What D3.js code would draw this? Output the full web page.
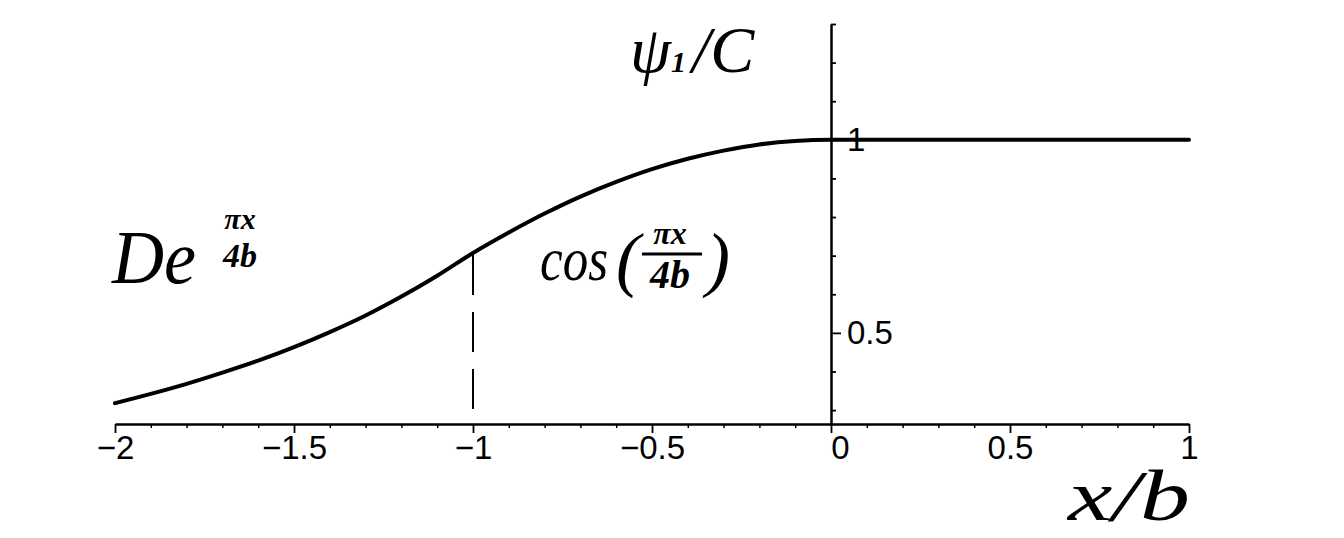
<!DOCTYPE html>
<html>
<head>
<meta charset="utf-8">
<script src="https://cdn.jsdelivr.net/npm/d3@7"></script>
<style>
  html, body { margin: 0; padding: 0; background: #fff; }
  svg { display: block; }
  .tick text { font-family: "Liberation Sans", Arial, sans-serif; }
  .hand { font-family: "Liberation Serif", "DejaVu Serif", serif; font-style: italic; fill: #000; }
</style>
</head>
<body>
<svg id="chart" width="1344" height="538"></svg>
<script>
// ---- data ----
const xValues   = [-2.0, -1.9, -1.8, -1.7, -1.6, -1.5, -1.4, -1.3, -1.2, -1.1, -1.0,
                   -0.9, -0.8, -0.7, -0.6, -0.5, -0.4, -0.3, -0.2, -0.1, 0.0, 0.5, 1.0];
const psiValues = [0.318, 0.342, 0.368, 0.397, 0.428, 0.463, 0.502, 0.545, 0.594, 0.648, 0.707,
                   0.760, 0.809, 0.853, 0.891, 0.924, 0.951, 0.972, 0.988, 0.997, 1.0, 1.0, 1.0];
const xMajorTicks = [-2, -1.5, -1, -0.5, 0, 0.5, 1];
const xMinorTicks = [-1.9,-1.8,-1.7,-1.6,-1.4,-1.3,-1.2,-1.1,-0.9,-0.8,-0.7,-0.6,-0.4,-0.3,-0.2,-0.1,
                     0.1,0.2,0.3,0.4,0.6,0.7,0.8,0.9];
const yMajorTicks = [0.5, 1];
const yMinorTicks = [0.3, 0.4, 0.6, 0.7, 0.8, 0.9, 1.1, 1.2, 1.3];
const xDomain = [-2, 1];
const yDomain = [0.264, 1.30];
const dashedAt = -1;

// ---- drawing ----
const svg = d3.select("#chart");
const x = d3.scaleLinear().domain(xDomain).range([115, 1189]);
const y = d3.scaleLinear().domain(yDomain).range([424, 24]);
const fmt = v => (v < 0 ? "\u2212" : "") + String(Math.abs(v));

// x axis minor
svg.append("g").attr("transform", `translate(0,${y(yDomain[0])})`)
  .call(d3.axisBottom(x).tickValues(xMinorTicks).tickSize(4).tickSizeOuter(0).tickFormat(""))
  .call(g => g.select(".domain").remove())
  .call(g => g.selectAll("line").attr("stroke", "#000").attr("stroke-width", 1.5));
// x axis major
const gx = svg.append("g").attr("transform", `translate(0,${y(yDomain[0])})`)
  .call(d3.axisBottom(x).tickValues(xMajorTicks).tickSize(9).tickPadding(3).tickSizeOuter(0).tickFormat(fmt));
gx.select(".domain").attr("stroke", "#000").attr("stroke-width", 2.5);
gx.selectAll("line").attr("stroke", "#000").attr("stroke-width", 1.8);
gx.selectAll("text").attr("font-size", 33).attr("fill", "#000")
  .attr("dx", d => d === 0 ? 9 : 0);

// y axis minor
svg.append("g").attr("transform", `translate(${x(0)},0)`)
  .call(d3.axisRight(y).tickValues(yMinorTicks).tickSize(5).tickSizeOuter(0).tickFormat(""))
  .call(g => g.select(".domain").remove())
  .call(g => g.selectAll("line").attr("stroke", "#000").attr("stroke-width", 1.8));
// y axis major
const gy = svg.append("g").attr("transform", `translate(${x(0)},0)`)
  .call(d3.axisRight(y).tickValues(yMajorTicks).tickSize(10).tickPadding(6).tickSizeOuter(0).tickFormat(d => String(d)));
gy.select(".domain").attr("stroke", "#000").attr("stroke-width", 2.5);
gy.selectAll("line").attr("stroke", "#000").attr("stroke-width", 1.8);
gy.selectAll("text").attr("font-size", 33).attr("fill", "#000");

// dashed drop line at x = -1
const iDash = xValues.indexOf(dashedAt);
svg.append("line")
  .attr("x1", x(dashedAt)).attr("x2", x(dashedAt))
  .attr("y1", y(psiValues[iDash]) + 2).attr("y2", y(yDomain[0]))
  .attr("stroke", "#000").attr("stroke-width", 2)
  .attr("stroke-dasharray", "40,17");

// curve
const pts = xValues.map((v, i) => [v, psiValues[i]]);
svg.append("path").datum(pts)
  .attr("fill", "none").attr("stroke", "#000").attr("stroke-width", 4)
  .attr("stroke-linecap", "round")
  .attr("d", d3.line().x(d => x(d[0])).y(d => y(d[1])).curve(d3.curveMonotoneX));

// ---- handwritten-style annotations ----
// psi_1 / C
const t1 = svg.append("text").attr("class", "hand").attr("x", 630).attr("y", 72).attr("font-size", 66);
t1.append("tspan").text("\u03C8");
t1.append("tspan").attr("font-size", 30).attr("font-weight", "bold").text("1");
t1.append("tspan").attr("dx", 6).text("/C");

// D e^{pi x / 4b}
svg.append("text").attr("class", "hand").attr("x", 112).attr("y", 283).attr("font-size", 76)
  .attr("textLength", 84).attr("lengthAdjust", "spacingAndGlyphs").text("De");
svg.append("text").attr("class", "hand").attr("x", 240).attr("y", 229).attr("font-size", 30)
  .attr("text-anchor", "middle").attr("font-weight", "bold").text("\u03C0x");
svg.append("text").attr("class", "hand").attr("x", 240).attr("y", 267).attr("font-size", 34)
  .attr("text-anchor", "middle").attr("font-weight", "bold").text("4b");

// cos(pi x / 4b)
svg.append("text").attr("class", "hand").attr("x", 540).attr("y", 280).attr("font-size", 62)
  .attr("textLength", 68).attr("lengthAdjust", "spacingAndGlyphs").text("cos");
svg.append("text").attr("class", "hand").attr("x", 616).attr("y", 283).attr("font-size", 72).text("(");
svg.append("text").attr("class", "hand").attr("x", 670).attr("y", 244).attr("font-size", 32)
  .attr("text-anchor", "middle").attr("font-weight", "bold").text("\u03C0x");
svg.append("line").attr("x1", 642).attr("x2", 702).attr("y1", 254).attr("y2", 254)
  .attr("stroke", "#000").attr("stroke-width", 3);
svg.append("text").attr("class", "hand").attr("x", 670).attr("y", 288).attr("font-size", 40)
  .attr("text-anchor", "middle").attr("font-weight", "bold").text("4b");
svg.append("text").attr("class", "hand").attr("x", 706).attr("y", 283).attr("font-size", 72).text(")");

// x / b
svg.append("text").attr("class", "hand").attr("x", 1068).attr("y", 520).attr("font-size", 72)
  .attr("textLength", 122).attr("lengthAdjust", "spacingAndGlyphs").text("x/b");
</script>
</body>
</html>
